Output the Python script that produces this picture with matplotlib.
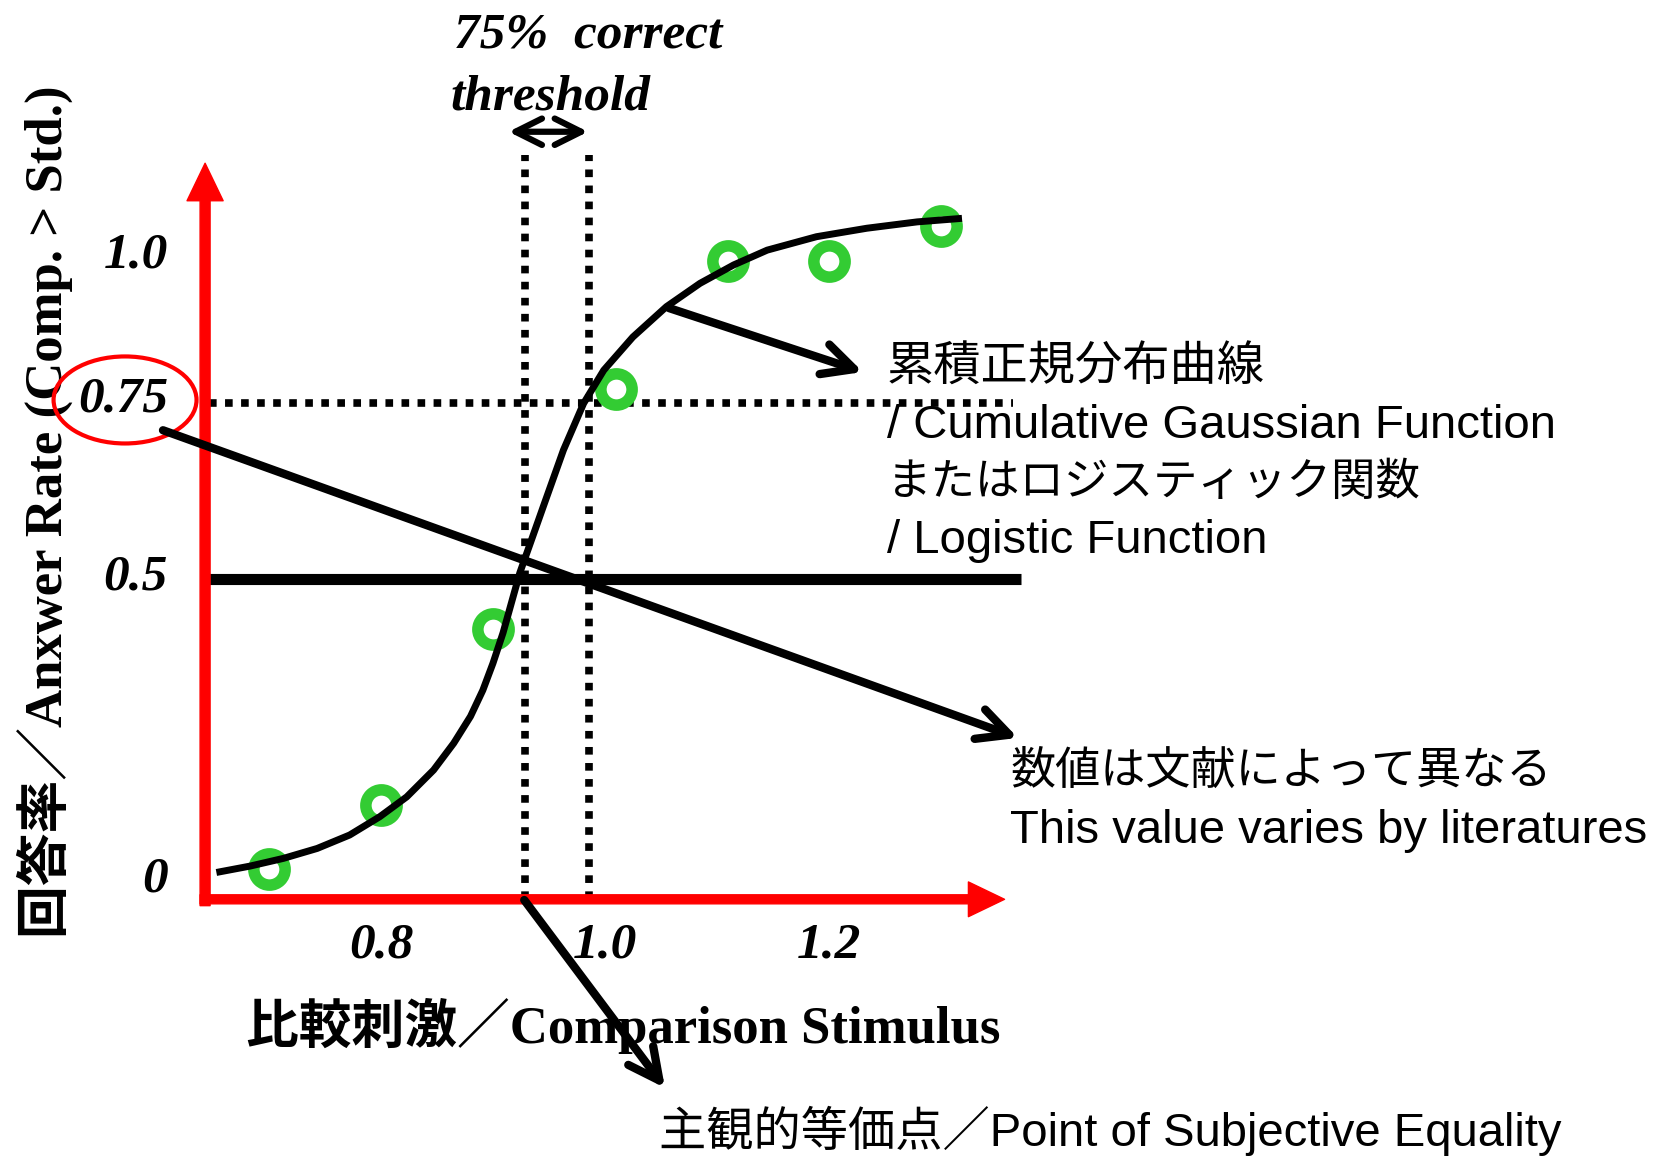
import matplotlib
matplotlib.use("Agg")
import matplotlib.pyplot as plt
from matplotlib.patches import Ellipse

# stimulus levels / answer rate (Comp. > Std.)
stim = [0.7, 0.8, 0.9, 1.01, 1.11, 1.2, 1.3]
rate = [0.09, 0.18, 0.43, 0.77, 0.95, 0.95, 1.0]

# fitted psychometric curve
curve_x = [0.653, 0.683, 0.713, 0.743, 0.772, 0.799, 0.823, 0.847, 0.865,
           0.880, 0.891, 0.900, 0.909, 0.924, 0.945, 0.963, 0.981, 0.999,
           1.025, 1.055, 1.085, 1.115, 1.145, 1.189, 1.234, 1.279, 1.319]
curve_y = [0.085, 0.094, 0.105, 0.119, 0.138, 0.164, 0.192, 0.230, 0.268,
           0.306, 0.343, 0.381, 0.424, 0.509, 0.603, 0.683, 0.749, 0.796,
           0.843, 0.886, 0.919, 0.945, 0.966, 0.985, 0.997, 1.006, 1.011]

pse = 0.929        # 50% point
thr75 = 0.986      # 75% point
levels = [0.5, 0.75]

xticks = [0.8, 1.0, 1.2]
xtick_labels = ["0.8", "1.0", "1.2"]
yticks = [0, 0.5, 0.75, 1.0]
ytick_labels = ["0", "0.5", "0.75", "1.0"]

xlabel = "比較刺激／Comparison Stimulus"
ylabel = "回答率／Anxwer Rate (Comp. > Std.)"
curve_note = ["累積正規分布曲線", "/ Cumulative Gaussian Function",
              "またはロジスティック関数", "/ Logistic Function"]
level_note = ["数値は文献によって異なる", "This value varies by literatures"]
pse_note = "主観的等価点／Point of Subjective Equality"

SERIF = ["Liberation Serif", "Noto Sans CJK JP"]
SANS = ["Liberation Sans", "Noto Sans CJK JP"]

fig = plt.figure(figsize=(16.76, 11.57), dpi=100)
ax = fig.add_axes([0, 0, 1, 1])
ax.set_xlim(0.4597, 1.9568)
ax.set_ylim(-0.3178, 1.3201)
ax.axis("off")

x0, y0 = 0.6384, 0.040   # origin of the red axes

# red axes with arrows
ax.annotate("", xy=(x0 + 0.0045, 1.089), xytext=(x0 + 0.0045, y0 - 0.002),
            arrowprops=dict(width=7.2, headwidth=26, headlength=27, color="red", shrink=0))
ax.annotate("", xy=(1.357, y0 + 0.007), xytext=(x0, y0 + 0.007),
            arrowprops=dict(width=6.5, headwidth=25, headlength=26, color="red", shrink=0))

# dotted guide lines
dot = dict(color="black", lw=5.5, linestyle=(0, (1, 1.1)), dash_capstyle="butt", zorder=2)
ax.plot([pse, pse], [y0 + 0.007, 1.1006], **dot)
ax.plot([thr75, thr75], [y0 + 0.007, 1.1006], **dot)
ax.plot([x0 + 0.008, 1.365], [levels[1], levels[1]], **dot)
ax.plot([x0 + 0.004, 1.3717], [levels[0], levels[0]], color="black", lw=8, zorder=2,
        solid_capstyle="butt")

# data points and fitted curve
ax.plot(stim, rate, "o", ms=22.5, mfc="white", mec="#33cc33", mew=8.3, zorder=3)
ax.plot(curve_x, curve_y, color="black", lw=5, zorder=4,
        solid_capstyle="butt", solid_joinstyle="round")

# tick labels
tick_font = dict(family=SERIF, weight="bold", style="italic", size=37)
for v, s in zip(xticks, xtick_labels):
    ax.text(v, -0.0177, s, ha="center", va="center", **tick_font)
y_shift = {"0": 38, "0.5": 1, "0.75": 2, "1.0": -21}
for v, s in zip(yticks, ytick_labels):
    ax.annotate(s, (0.6098, v), xytext=(0, y_shift[s]), textcoords="offset points",
                ha="right", va="center", **tick_font)

ax.add_patch(Ellipse((0.5714, 0.7539), 0.1277, 0.1232, fill=False, ec="red", lw=3, zorder=5))

# axis titles
ax.text(1.0162, -0.1564, xlabel, ha="center", va="baseline",
        family=SERIF, weight="bold", size=38)
ax.text(0.4999, 0.5953, ylabel, ha="center", va="center", rotation=90,
        family=SERIF, weight="bold", size=38)

# threshold annotation
ax.text(0.8653, 1.2522, "75%  correct", ha="left", va="baseline",
        family=SERIF, weight="bold", style="italic", size=37)
ax.text(0.8617, 1.1644, "threshold", ha="left", va="baseline",
        family=SERIF, weight="bold", style="italic", size=37)
ax.annotate("", xy=(0.914, 1.1336), xytext=(0.985, 1.1336),
            arrowprops=dict(arrowstyle="<->,head_length=1.9,head_width=0.95",
                            mutation_scale=10, lw=4.5, color="black",
                            shrinkA=0, shrinkB=0, capstyle="round"))

# pointer arrows
arrow = dict(arrowstyle="->,head_length=1.6,head_width=0.8", mutation_scale=14,
             lw=6, color="black", shrinkA=0, shrinkB=0, capstyle="round")
ax.annotate("", xy=(1.2305, 0.7935), xytext=(1.0573, 0.884), arrowprops=arrow, zorder=5)
ax.annotate("", xy=(1.369, 0.2755), xytext=(0.6053, 0.711), arrowprops=arrow, zorder=5)
ax.annotate("", xy=(1.0537, -0.220), xytext=(0.928, 0.046), arrowprops=arrow, zorder=5)

# notes (kana lines a bit smaller: the original font has proportional kana)
for i, line in enumerate(curve_note):
    size = 32 if i == 2 else 34
    ax.text(1.252, 0.7978 - i * 0.0812, line, ha="left", va="center", family=SANS, size=size)
for i, line in enumerate(level_note):
    size = 32.5 if i == 0 else 34
    ax.text(1.3619, 0.2272 - i * 0.0828, line, ha="left", va="center", family=SANS, size=size)
ax.text(1.0484, -0.281, pse_note, ha="left", va="center", family=SANS, size=34)

fig.savefig("out.png", dpi=100, facecolor="white")
